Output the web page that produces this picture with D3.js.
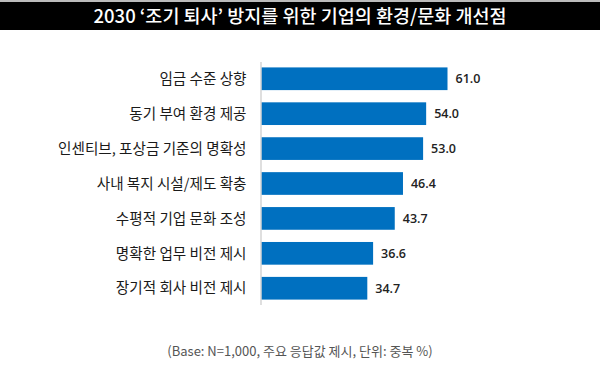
<!DOCTYPE html>
<html><head><meta charset="utf-8">
<script src="https://cdn.jsdelivr.net/npm/d3@7"></script>
<style>body{margin:0;background:#fff;} svg{display:block;}</style>
</head><body>
<script>
const categories = ["임금 수준 상향","동기 부여 환경 제공","인센티브, 포상금 기준의 명확성","사내 복지 시설/제도 확충","수평적 기업 문화 조성","명확한 업무 비전 제시","장기적 회사 비전 제시"];
const values = [61.0, 54.0, 53.0, 46.4, 43.7, 36.6, 34.7];
const titleText = "2030 ‘조기 퇴사’ 방지를 위한 기업의 환경/문화 개선점";
const noteText = "(Base: N=1,000, 주요 응답값 제시, 단위: 중복 %)";

const W = 600, H = 365;
const svg = d3.select("body").append("svg").attr("width", W).attr("height", H);
const kr = "'Noto Sans CJK KR', 'Noto Sans', sans-serif";

svg.append("rect").attr("x",0).attr("y",0).attr("width",W).attr("height",2).attr("fill","#bbb");
svg.append("rect").attr("x",0).attr("y",2).attr("width",W).attr("height",28).attr("fill","#000");
svg.append("text").attr("x",W/2).attr("y",22.5).attr("text-anchor","middle")
  .attr("fill","#fff").attr("font-family",kr).attr("font-size",18.5).attr("font-weight",500)
  .text(titleText);

const x = d3.scaleLinear().domain([0, 61]).range([261.5, 447.5]);
const y = d3.scaleBand().domain(categories).range([62, 305]).paddingInner(0.35).paddingOuter(0.155);

svg.append("g").selectAll("rect").data(values).join("rect")
  .attr("x", x(0)).attr("y", (d,i)=>y(categories[i]))
  .attr("width", d=>x(d)-x(0)).attr("height", y.bandwidth())
  .attr("fill", "#0070C0");

svg.append("line").attr("x1",261).attr("x2",261).attr("y1",62).attr("y2",305)
  .attr("stroke","#bfbfbf").attr("stroke-width",1);

svg.append("g").selectAll("text").data(categories).join("text")
  .attr("x", 246.5).attr("y", d=>y(d)+y.bandwidth()/2)
  .attr("dy","0.36em").attr("text-anchor","end")
  .attr("font-family",kr).attr("font-size",14.6).attr("fill","#1a1a1a")
  .text(d=>d);

svg.append("g").selectAll("text").data(values).join("text")
  .attr("x", d=>x(d)+8).attr("y", (d,i)=>y(categories[i])+y.bandwidth()/2)
  .attr("dy","0.36em").attr("text-anchor","start")
  .attr("font-family","'Open Sans', sans-serif").attr("font-size",12.5).attr("font-weight",600).attr("fill","#222")
  .text(d=>d.toFixed(1));

svg.append("text").attr("x",300).attr("y",356).attr("text-anchor","middle")
  .attr("font-family",kr).attr("font-size",13).attr("fill","#555")
  .text(noteText);
</script>
</body></html>
